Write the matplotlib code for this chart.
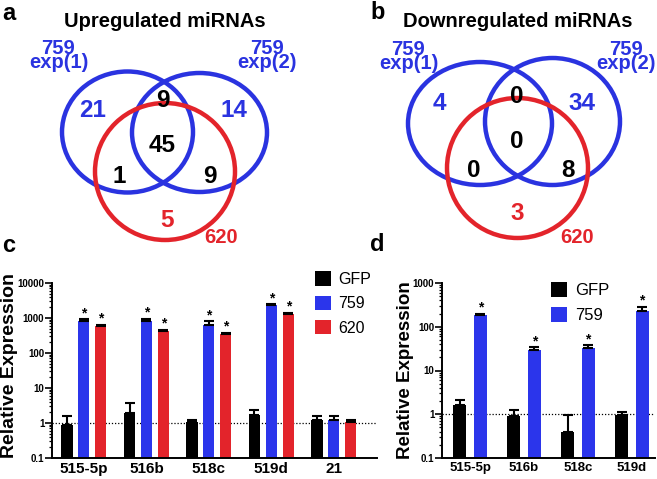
import numpy as np
import matplotlib
matplotlib.use("Agg")
import matplotlib.pyplot as plt
from matplotlib.patches import Ellipse

plt.rcParams["font.family"] = ["Liberation Sans", "DejaVu Sans"]

BLUE = "#2B35EB"
RED = "#E3242B"
VENN_BLUE = "#2A33E0"

# venn counts, order: only1, 1&2, only2, all, 1&620, 2&620, only620
up_counts = [21, 9, 14, 45, 1, 9, 5]
down_counts = [4, 0, 34, 0, 0, 8, 3]

# panel c: relative expression (mean, upper error)
c_labels = ["515-5p", "516b", "518c", "519d", "21"]
c_gfp = [0.85, 1.95, 1.05, 1.7, 1.2]
c_gfp_err = [0.75, 1.85, 0.15, 0.7, 0.4]
c_759 = [800, 800, 650, 2300, 1.25]
c_759_err = [120, 150, 150, 200, 0.35]
c_620 = [590, 430, 350, 1300, 1.07]
c_620_err = [50, 35, 35, 120, 0.12]
c_sig_759 = [True, True, True, True, False]
c_sig_620 = [True, True, True, True, False]

# panel d
d_labels = ["515-5p", "516b", "518c", "519d"]
d_gfp = [1.6, 0.9, 0.4, 0.97]
d_gfp_err = [0.55, 0.35, 0.57, 0.15]
d_759 = [185, 29, 33, 235]
d_759_err = [15, 5, 5, 55]
d_sig_759 = [True, True, True, True]

W, H = 657, 479
fig = plt.figure(figsize=(W / 100, H / 100), dpi=100)

# overlay in pixel coordinates for the venn panels and panel letters
ov = fig.add_axes([0, 0, 1, 1])
ov.set_xlim(0, W)
ov.set_ylim(H, 0)
ov.axis("off")
ov.patch.set_visible(False)


def ptext(x, y, s, size, color="black", weight="bold", ha="center", **kw):
    ov.text(x, y, s, fontsize=size, color=color, fontweight=weight,
            ha=ha, va="baseline", **kw)


def venn(circles, counts, spots, colors):
    for (cx, cy, w, h), col in zip(circles, [VENN_BLUE, VENN_BLUE, RED]):
        ov.add_patch(Ellipse((cx, cy), w, h, fill=False, ec=col, lw=3.2))
    for n, (x, y), col in zip(counts, spots, colors):
        ptext(x, y, str(n), 17.5, col)


region_colors = [VENN_BLUE, "black", VENN_BLUE, "black", "black", "black", RED]
set_kw = dict(linespacing=0.7, multialignment="center")

# panel a
venn([(127.5, 132, 131, 121), (199.5, 132.5, 135, 119), (165, 171.5, 140, 137)],
     up_counts,
     [(92.5, 117), (163, 107), (234, 117), (162.5, 152), (119, 183), (210, 183), (167, 227)],
     region_colors)
ptext(164.5, 27, "Upregulated miRNAs", 14.5)
ptext(58.5, 68, "759\nexp(1)", 14.5, VENN_BLUE, **set_kw)
ptext(267, 68, "759\nexp(2)", 14.5, VENN_BLUE, **set_kw)
ptext(221, 243, "620", 14.5, RED)

# panel b
venn([(480, 123.5, 144, 123), (552.5, 121.5, 135, 127), (517.5, 168, 141, 140)],
     down_counts,
     [(439.5, 110), (517, 103), (582, 110), (517, 148), (473.5, 177), (568.5, 177), (517.5, 220)],
     region_colors)
ptext(518, 27, "Downregulated miRNAs", 14.5)
ptext(408.5, 69, "759\nexp(1)", 14.5, VENN_BLUE, **set_kw)
ptext(626, 69, "759\nexp(2)", 14.5, VENN_BLUE, **set_kw)
ptext(577, 243, "620", 14.5, RED)

# panel letters
ptext(9, 20, "a", 17)
ptext(378, 19, "b", 17)
ptext(9, 252, "c", 17)
ptext(377, 251, "d", 17)


def px_axes(l, t, r, b):
    return fig.add_axes([l / W, 1 - b / H, (r - l) / W, (b - t) / H])


def style_axes(ax, labels, ylim, xlim, xsize):
    ax.set_yscale("log")
    ax.set_ylim(*ylim)
    ax.set_xlim(*xlim)
    ax.set_xticks(np.arange(len(labels)))
    ax.set_xticklabels(labels, fontsize=xsize, fontweight="bold")
    ax.tick_params(axis="x", length=0, pad=3)
    ax.tick_params(axis="y", which="major", length=5, width=1.2, labelsize=7, pad=0.5)
    ax.tick_params(axis="y", which="minor", length=2.5, width=0.9)
    ax.yaxis.set_major_formatter(matplotlib.ticker.FuncFormatter(lambda v, p: f"{v:g}"))
    for lab in ax.get_yticklabels():
        lab.set_fontweight("bold")
    for s in ["top", "right"]:
        ax.spines[s].set_visible(False)
    for s in ["left", "bottom"]:
        ax.spines[s].set_linewidth(1.4)
    ax.axhline(1, color="black", ls=(0, (1, 1.5)), lw=0.9, zorder=1)
    ax.patch.set_visible(False)


def bars(ax, x, vals, errs, color, width, sig=None):
    b = ax.bar(x, vals, width, color=color, yerr=[np.zeros(len(vals)), errs],
               error_kw=dict(ecolor="black", elinewidth=1.5, capsize=3.5, capthick=1.5),
               zorder=2)
    if sig is not None:
        for xi, v, e, s in zip(x, vals, errs, sig):
            if s:
                ax.annotate("*", xy=(xi, v + e), xytext=(0, 1.5), textcoords="offset points",
                            ha="center", va="baseline", fontsize=10, fontweight="bold")
    return b


# panel c
axc = px_axes(52, 283, 377, 458)
xc = np.arange(len(c_labels))
wc = 0.177
b1 = bars(axc, xc - 0.27, c_gfp, c_gfp_err, "black", wc)
b2 = bars(axc, xc, c_759, c_759_err, BLUE, wc, c_sig_759)
b3 = bars(axc, xc + 0.27, c_620, c_620_err, RED, wc, c_sig_620)
style_axes(axc, c_labels, (0.1, 10000), (-0.51, 4.69), 11)
fig.text(10 / W, 1 - 365 / H, "Relative Expression", rotation=90, fontsize=14,
         fontweight="bold", ha="center", va="center")
axc.legend([b1, b2, b3], ["GFP", "759", "620"], loc="upper left",
           bbox_to_anchor=(309 / W, 1 - 265 / H), bbox_transform=fig.transFigure,
           frameon=False, fontsize=11.5, handlelength=1.0, handleheight=1.0,
           handletextpad=0.45, labelspacing=0.55, borderaxespad=0)

# panel d
axd = px_axes(442, 283, 655, 458)
xd = np.arange(len(d_labels))
wd = 0.24
g1 = bars(axd, xd - 0.19, d_gfp, d_gfp_err, "black", wd)
g2 = bars(axd, xd + 0.19, d_759, d_759_err, BLUE, wd, d_sig_759)
style_axes(axd, d_labels, (0.1, 1000), (-0.52, 3.43), 9.5)
fig.text(406 / W, 1 - 370 / H, "Relative Expression", rotation=90, fontsize=13.5,
         fontweight="bold", ha="center", va="center")
axd.legend([g1, g2], ["GFP", "759"], loc="upper left",
           bbox_to_anchor=(544 / W, 1 - 275 / H), bbox_transform=fig.transFigure,
           frameon=False, fontsize=12, handlelength=1.0, handleheight=1.0,
           handletextpad=0.45, labelspacing=0.55, borderaxespad=0)

fig.savefig("out.png", dpi=100)
